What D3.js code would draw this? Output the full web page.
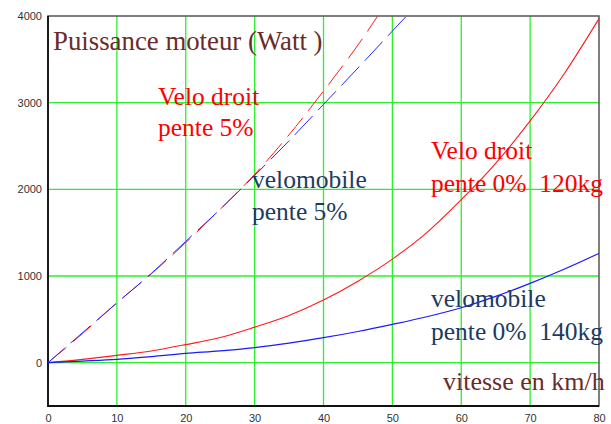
<!DOCTYPE html>
<html><head><meta charset="utf-8">
<script src="https://cdn.jsdelivr.net/npm/d3@7"></script>
<style>
html,body{margin:0;padding:0;background:#fff;}
svg{display:block;}
</style></head>
<body>
<script>
// ---- data ----
const speedsA = [0,5,10,15,20,25,30,35,40,45,50,55,60,65,70,75,80];
const veloDroit0 = [0,38,84,135,208,290,410,545,722,940,1195,1500,1880,2300,2790,3340,3970];
const velomobile0 = [0,18,38,70,107,135,173,225,288,360,442,530,634,765,915,1080,1261];
const speedsB = [0,5,10,15,20,25,30,35,40,45,50,55];
const veloDroit5 = [0,335,690,1025,1385,1770,2172,2630,3134,3665,4260,4900];
const velomobile5 = [0,345,690,1030,1400,1770,2160,2560,2980,3400,3826,4250];
const xTicks = [0,10,20,30,40,50,60,70,80];
const yTicks = [0,1000,2000,3000,4000];

const W = 611, H = 424;
const L = 48, R = 599, T = 16, B = 406;
const svg = d3.select("body").append("svg").attr("width", W).attr("height", H);

const x = d3.scaleLinear().domain([0,80]).range([L,R]);
const y = d3.scaleLinear().domain([-500,4000]).range([B,T]);

svg.append("defs").append("clipPath").attr("id","clip")
  .append("rect").attr("x",L).attr("y",T).attr("width",R-L).attr("height",B-T);

// grid
const grid = svg.append("g").attr("stroke","#2cf02c").attr("stroke-width",1.3);
xTicks.filter(d=>d>0&&d<80).forEach(d=>{
  grid.append("line").attr("x1",x(d)).attr("x2",x(d)).attr("y1",T).attr("y2",B);
});
yTicks.filter(d=>d<4000).forEach(d=>{
  grid.append("line").attr("x1",L).attr("x2",R).attr("y1",y(d)).attr("y2",y(d));
});

// axes tick labels
const xAxis = d3.axisBottom(x).tickValues(xTicks).tickSize(0).tickPadding(8);
const gx = svg.append("g").attr("transform",`translate(0,${B})`).call(xAxis);
const yAxis = d3.axisLeft(y).tickValues(yTicks).tickSize(0).tickPadding(6).tickFormat(d3.format("d"));
const gy = svg.append("g").attr("transform",`translate(${L},0)`).call(yAxis);
[gx,gy].forEach(g=>{
  g.select(".domain").remove();
  g.selectAll("text").attr("font-family","'Liberation Sans', Arial, sans-serif")
   .attr("font-size",11).attr("fill","#333");
});

// frame
svg.append("rect").attr("x",L).attr("y",T).attr("width",R-L).attr("height",B-T)
  .attr("fill","none").attr("stroke","#555").attr("stroke-width",1.5);
svg.append("path").attr("d",`M${L},${T}V${B}H${R}`).attr("fill","none")
  .attr("stroke","#111").attr("stroke-width",1.8);

// curves
const plot = svg.append("g").attr("clip-path","url(#clip)");
const line = (xs, ys) => d3.line().curve(d3.curveMonotoneX)
  .x((d,i)=>x(xs[i])).y(d=>y(d))(ys);

plot.append("path").attr("d",line(speedsB,veloDroit5)).attr("fill","none")
  .attr("stroke","#ff1a1a").attr("stroke-width",1).attr("stroke-dasharray","24,9");
plot.append("path").attr("d",line(speedsB,velomobile5)).attr("fill","none")
  .attr("stroke","#2a2aff").attr("stroke-width",1).attr("stroke-dasharray","26,8").attr("stroke-dashoffset",4);
plot.append("path").attr("d",line(speedsA,veloDroit0)).attr("fill","none")
  .attr("stroke","#ff1a1a").attr("stroke-width",1.1);
plot.append("path").attr("d",line(speedsA,velomobile0)).attr("fill","none")
  .attr("stroke","#1a1aff").attr("stroke-width",1.2);

// labels
const maroon = "#6b2b2b", navy = "#1f3a5f", red = "#ff0000";
const labels = [
  {t:"Puissance moteur (Watt )", x:53, y:50, c:maroon, s:26.8},
  {t:"Velo droit", x:158, y:105, c:red, s:25.5},
  {t:"pente 5%", x:158, y:136, c:red, s:25.5},
  {t:"velomobile", x:252, y:188, c:navy, s:25.5},
  {t:"pente 5%", x:252, y:220, c:navy, s:25.5},
  {t:"Velo droit", x:431, y:159, c:red, s:25.5},
  {t:"pente 0%  120kg", x:431, y:192, c:red, s:25.5},
  {t:"velomobile", x:431, y:307, c:navy, s:25.5},
  {t:"pente 0%  140kg", x:431, y:340, c:navy, s:25.5},
  {t:"vitesse en km/h", x:443, y:390, c:maroon, s:26}
];
svg.append("g").selectAll("text").data(labels).join("text")
  .attr("x",d=>d.x).attr("y",d=>d.y).attr("fill",d=>d.c)
  .attr("xml:space","preserve").style("white-space","pre")
  .attr("font-family","'Liberation Serif', 'Times New Roman', serif")
  .attr("font-size",d=>d.s).text(d=>d.t);
</script>
</body></html>
